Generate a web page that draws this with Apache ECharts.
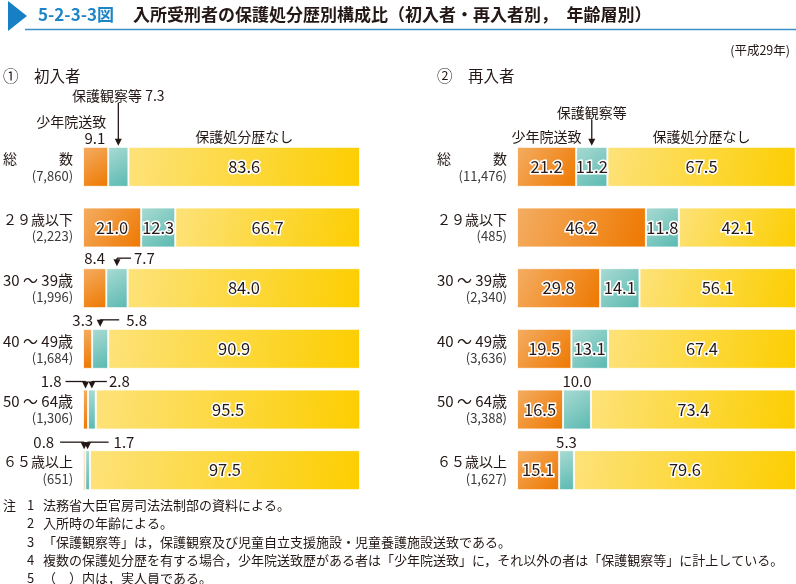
<!DOCTYPE html>
<html><head><meta charset="utf-8">
<script src="https://cdn.jsdelivr.net/npm/echarts@6/dist/echarts.min.js"></script>
<style>html,body{margin:0;padding:0;background:#fff}#c{width:796px;height:584px}</style>
</head><body><div id="c"></div>
<script>
const categories = ['総　　　数','２９歳以下','30 ～ 39歳','40 ～ 49歳','50 ～ 64歳','６５歳以上'];
const seriesNames = ['少年院送致','保護観察等','保護処分歴なし'];
// ① 初入者
const firstShonenin = [9.1, 21.0, 8.4, 3.3, 1.8, 0.8];
const firstHogo     = [7.3, 12.3, 7.7, 5.8, 2.8, 1.7];
const firstNashi    = [83.6, 66.7, 84.0, 90.9, 95.5, 97.5];
const firstCounts   = [7860, 2223, 1996, 1684, 1306, 651];
// ② 再入者
const reShonenin = [21.2, 46.2, 29.8, 19.5, 16.5, 15.1];
const reHogo     = [11.2, 11.8, 14.1, 13.1, 10.0, 5.3];
const reNashi    = [67.5, 42.1, 56.1, 67.4, 73.4, 79.6];
const reCounts   = [11476, 485, 2340, 3636, 3388, 1627];

const notes = [
  ['注','1','法務省大臣官房司法法制部の資料による。'],
  ['','2','入所時の年齢による。'],
  ['','3','「保護観察等」は，保護観察及び児童自立支援施設・児童養護施設送致である。'],
  ['','4','複数の保護処分歴を有する場合，少年院送致歴がある者は「少年院送致」に，それ以外の者は「保護観察等」に計上している。'],
  ['','5','（　）内は，実人員である。']
];

const FONT = '"Noto Sans CJK JP", "Noto Sans", sans-serif';
const INK = '#231815';
const grads = [
  ['#F4AD62', '#EE7800'],
  ['#A9DBD3', '#5AB9B1'],
  ['#FDE27A', '#FCCE00']
];
function grad(c){return {type:'linear',x:0,y:0,x2:1,y2:1,colorStops:[{offset:0,color:c[0]},{offset:1,color:c[1]}]};}

const chart = echarts.init(document.getElementById('c'), null, {renderer:'canvas'});
const gridTop = 136.5, gridH = 364;
function yAxisFor(g, counts){
  return {type:'category', gridIndex:g, inverse:true, data:categories,
    axisLine:{show:false}, axisTick:{show:false}, splitLine:{show:false},
    axisLabel:{margin:10, align:'right', formatter:(v,i)=>'{'+(/[0-9]/.test(v)?'n':'a')+'|'+v+'}\n{b|('+counts[i].toLocaleString('en-US')+')}',
      rich:{a:{fontSize:14, color:INK, fontFamily:FONT, lineHeight:18, align:'right'},
            n:{fontSize:15, color:INK, fontFamily:FONT, lineHeight:18, align:'right'},
            b:{fontSize:13, color:'#3a3a3a', fontFamily:FONT, lineHeight:16, align:'right'}}}};
}
function mkSeries(g, arrs){
  return arrs.map((arr,k)=>({
    type:'bar', name:seriesNames[k], stack:'s'+g, xAxisIndex:g, yAxisIndex:g, barWidth:40,
    itemStyle:{color:grad(grads[k]), borderColor:'rgba(255,255,255,0.8)', borderWidth:1},
    label:{show:true, position:'inside', fontSize:16.5, fontFamily:FONT, color:INK,
      textBorderColor:'#fff', textBorderWidth:3,
      formatter:p=> p.value>10 ? p.value.toFixed(1) : ''},
    data:arr.slice()
  }));
}
chart.setOption({
  animation:false,
  grid:[{left:82, width:278, top:gridTop, height:gridH},{left:517, width:279, top:gridTop, height:gridH}],
  xAxis:[0,1].map(g=>({type:'value', gridIndex:g, min:0, max:100, show:false})),
  yAxis:[yAxisFor(0, firstCounts), yAxisFor(1, reCounts)],
  series:[...mkSeries(0,[firstShonenin,firstHogo,firstNashi]), ...mkSeries(1,[reShonenin,reHogo,reNashi])]
});

const data = [[firstShonenin,firstHogo,firstNashi],[reShonenin,reHogo,reNashi]];
function seg(g,row,k){
  let s=0; for(let j=0;j<k;j++) s+=data[g][j][row];
  const e = s + data[g][k][row];
  const p0 = chart.convertToPixel({gridIndex:g},[s,row]);
  const p1 = chart.convertToPixel({gridIndex:g},[e,row]);
  return {x0:p0[0], x1:p1[0], xc:(p0[0]+p1[0])/2, yc:p0[1], top:p0[1]-20};
}
const G = [];
function txt(x,y,t,size,align,opts){
  G.push(Object.assign({type:'text', x:x, y:y, silent:true, style:Object.assign({text:t, fill:INK, fontSize:size, fontFamily:FONT, align:align||'center', verticalAlign:'middle'}, opts||{})}));
}
function line(x1,y1,x2,y2){G.push({type:'line', silent:true, shape:{x1,y1,x2,y2}, style:{stroke:INK, lineWidth:1.3}});}
function head(x,y){G.push({type:'polygon', silent:true, shape:{points:[[x-3.5,y-7],[x+3.5,y-7],[x,y]]}, style:{fill:INK}});}
function lArrow(fromX, toX, y, tipY){ line(fromX,y,toX,y); line(toX,y,toX,tipY-5); head(toX,tipY); }

// title
G.push({type:'polygon', silent:true, shape:{points:[[8,1],[27,16],[8,31]]}, style:{fill:'#1780C4'}});
G.push({type:'line', silent:true, shape:{x1:25,y1:29.5,x2:796,y2:29.5}, style:{stroke:'#3C8FC6', lineWidth:1.6}});
txt(38,15,'5-2-3-3図',17,'left',{fill:'#1E86C6', fontWeight:'bold'});
txt(133,15,'入所受刑者の保護処分歴別構成比（初入者・再入者別，　年齢層別）',17,'left',{fontWeight:'bold', fill:'#231815'});
txt(790,50,'(平成29年)',12.5,'right');
txt(3,76,'①　初入者',15.5,'left');
txt(437,76,'②　再入者',15.5,'left');

// left headers (row 0)
{
  const o=seg(0,0,0), t=seg(0,0,1), y=seg(0,0,2);
  txt(t.xc,o.top-51,'保護観察等 7.3',14,'center');
  line(t.xc,o.top-44,t.xc,o.top-6); head(t.xc,o.top-1);
  txt(o.x1-2,o.top-25,'少年院送致',14,'right');
  txt(o.x1-3,o.top-9,'9.1',15,'right');
  txt(y.xc,o.top-10,'保護処分歴なし',14,'center');
}
// right headers (row 0)
{
  const o=seg(1,0,0), t=seg(1,0,1), y=seg(1,0,2);
  txt(t.xc,o.top-34,'保護観察等',14,'center');
  line(t.xc,o.top-27,t.xc,o.top-6); head(t.xc,o.top-1);
  txt(o.xc,o.top-10,'少年院送致',14,'center');
  txt(y.xc,o.top-10,'保護処分歴なし',14,'center');
}
// left small-value callouts
{
  let o=seg(0,2,0), t=seg(0,2,1);
  txt(o.xc,o.top-10,firstShonenin[2].toFixed(1),15,'center');
  lArrow(t.xc+14,t.xc,o.top-10,o.top-2); txt(t.xc+17,o.top-10,firstHogo[2].toFixed(1),15,'left');
  o=seg(0,3,0); t=seg(0,3,1);
  txt(o.x1+1,o.top-9,firstShonenin[3].toFixed(1),15,'right');
  lArrow(t.xc+19,t.xc,o.top-9,o.top-2); txt(t.xc+26,o.top-9,firstHogo[3].toFixed(1),15,'left');
  o=seg(0,4,0); t=seg(0,4,1);
  txt(o.xc-24,o.top-8,firstShonenin[4].toFixed(1),15,'right');
  lArrow(o.xc-20,o.xc,o.top-8,o.top-1);
  lArrow(t.xc+15,t.xc,o.top-8,o.top-1); txt(t.xc+17,o.top-8,firstHogo[4].toFixed(1),15,'left');
  o=seg(0,5,0); t=seg(0,5,1);
  txt(o.xc-30,o.top-8,firstShonenin[5].toFixed(1),15,'right');
  lArrow(o.xc-24,o.xc,o.top-8,o.top-1);
  lArrow(t.xc+21,t.xc,o.top-8,o.top-1); txt(t.xc+26,o.top-8,firstHogo[5].toFixed(1),15,'left');
}
// right small-value callouts
{
  let t=seg(1,4,1); txt(t.xc,t.top-8,reHogo[4].toFixed(1),15,'center');
  t=seg(1,5,1); txt(t.xc,t.top-8,reHogo[5].toFixed(1),15,'center');
}
// notes
notes.forEach((n,i)=>{
  const y=505+i*18.3;
  if(n[0]) txt(3,y,n[0],13,'left');
  txt(27,y,n[1],13,'left');
  txt(43,y,n[2],13,'left');
});
chart.setOption({graphic:G});
</script></body></html>
